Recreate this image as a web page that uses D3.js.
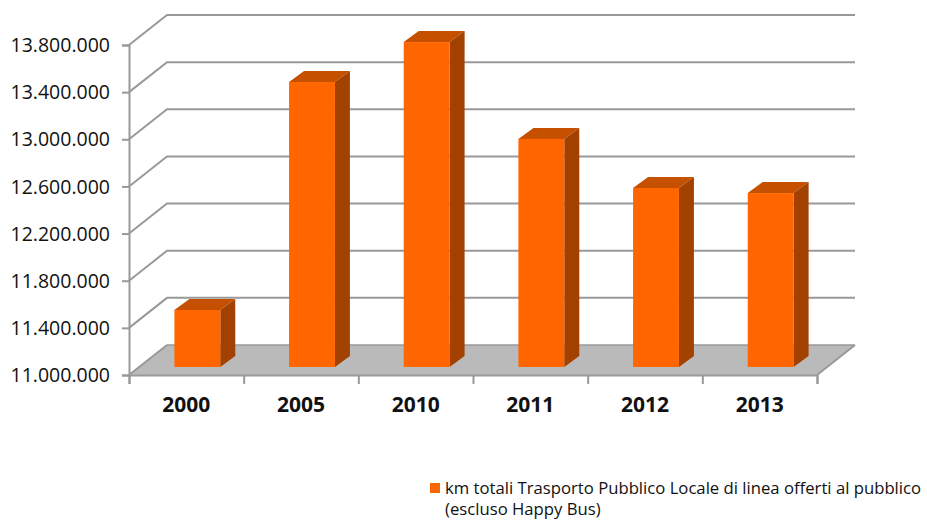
<!DOCTYPE html>
<html>
<head>
<meta charset="utf-8">
<script src="https://cdn.jsdelivr.net/npm/d3@7"></script>
<style>
html, body { margin: 0; padding: 0; background: #fff; }
text { font-family: "Open Sans", sans-serif; fill: #111; }
</style>
</head>
<body>
<script>
var categories = ["2000", "2005", "2010", "2011", "2012", "2013"];
var values = [11484000, 13418000, 13757000, 12935000, 12519000, 12476000];
var tickValues = [11000000, 11400000, 11800000, 12200000, 12600000, 13000000, 13400000, 13800000];
var legendLines = ["km totali Trasporto Pubblico Locale di linea offerti al pubblico", "(escluso Happy Bus)"];

var width = 927, height = 520;
var left = 129, right = 817, bottom = 375, top_ = 45;
var depthX = 38, depthY = 30;      // how far the back wall sits from the front axes
var barDepthX = 15, barDepthY = 11;
var barShiftX = 11, barShiftY = 8; // bars stand a bit behind the front edge
var gridColor = "#999999";

var svg = d3.select("body").append("svg").attr("width", width).attr("height", height);

var y = d3.scaleLinear().domain([11000000, 13800000]).range([bottom, top_]);
var x = d3.scaleBand().domain(categories).range([left, right]).paddingInner(0.6).paddingOuter(0.3);

var it = d3.formatLocale({ decimal: ",", thousands: ".", grouping: [3], currency: ["", ""] });

// floor
svg.append("path")
  .attr("d", "M" + left + "," + bottom + "L" + right + "," + bottom +
    "L" + (right + depthX) + "," + (bottom - depthY) + "L" + (left + depthX) + "," + (bottom - depthY) + "Z")
  .attr("fill", "#bababa");

// grid on side and back wall
var grid = svg.append("g").attr("fill", "none").attr("stroke", gridColor).attr("stroke-width", 2);
tickValues.forEach(function (t, i) {
  var path = "M" + left + "," + y(t) + "L" + (left + depthX) + "," + (y(t) - depthY);
  if (i > 0) path += "L" + (right + depthX) + "," + (y(t) - depthY);
  else path += "M" + right + "," + y(t) + "L" + (right + depthX) + "," + (y(t) - depthY);
  grid.append("path").attr("d", path);
});
grid.append("path").attr("d", "M" + (left + depthX) + "," + (bottom - depthY) + "L" + (right + depthX) + "," + (bottom - depthY))
  .attr("stroke-width", 1.5);

// axes
var axisY = d3.axisLeft(y).tickValues(tickValues).tickSize(7).tickPadding(12).tickFormat(it.format(",d"));
var gy = svg.append("g").attr("transform", "translate(" + left + ",0)").call(axisY);
gy.selectAll("text").style("font-size", "19.5px").attr("dy", "0.34em");

var axisX = d3.axisBottom(d3.scalePoint().domain(d3.range(categories.length + 1)).range([left, right]))
  .tickSize(9).tickFormat("");
var gx = svg.append("g").attr("transform", "translate(0," + bottom + ")").call(axisX);
svg.selectAll(".domain").attr("stroke", gridColor).attr("stroke-width", 2);
svg.selectAll(".tick line").attr("stroke", gridColor).attr("stroke-width", 2);

// category labels
svg.selectAll(".cat").data(categories).enter().append("text")
  .attr("class", "cat")
  .attr("x", function (d) { return x(d) + x.bandwidth() / 2; })
  .attr("y", 412)
  .attr("text-anchor", "middle")
  .style("font-size", "21px").style("font-weight", "bold")
  .text(function (d) { return d; });

// bars
var bars = svg.selectAll(".bar").data(categories).enter().append("g").attr("class", "bar")
  .attr("transform", "translate(" + barShiftX + ",0)");
function yBar(i) { return y(values[i]) - barShiftY; }
bars.append("path").attr("fill", "#c55000")
  .attr("d", function (d, i) {
    var x0 = x(d), x1 = x0 + x.bandwidth(), t = yBar(i);
    return "M" + x0 + "," + t + "L" + x1 + "," + t + "L" + (x1 + barDepthX) + "," + (t - barDepthY) + "L" + (x0 + barDepthX) + "," + (t - barDepthY) + "Z";
  });
bars.append("path").attr("fill", "#a34200")
  .attr("d", function (d, i) {
    var x1 = x(d) + x.bandwidth(), t = yBar(i), b = bottom - barShiftY;
    return "M" + x1 + "," + t + "L" + (x1 + barDepthX) + "," + (t - barDepthY) + "L" + (x1 + barDepthX) + "," + (b - barDepthY) + "L" + x1 + "," + b + "Z";
  });
bars.append("rect").attr("fill", "#ff6600")
  .attr("x", function (d) { return x(d); })
  .attr("width", x.bandwidth())
  .attr("y", function (d, i) { return yBar(i); })
  .attr("height", function (d, i) { return bottom - barShiftY - yBar(i); });

// legend
svg.append("rect").attr("x", 430).attr("y", 483).attr("width", 10).attr("height", 10).attr("fill", "#ff6600");
svg.selectAll(".leg").data(legendLines).enter().append("text")
  .attr("class", "leg")
  .attr("x", 445)
  .attr("y", function (d, i) { return 494 + i * 21; })
  .style("font-size", "16.7px")
  .text(function (d) { return d; });
</script>
</body>
</html>
